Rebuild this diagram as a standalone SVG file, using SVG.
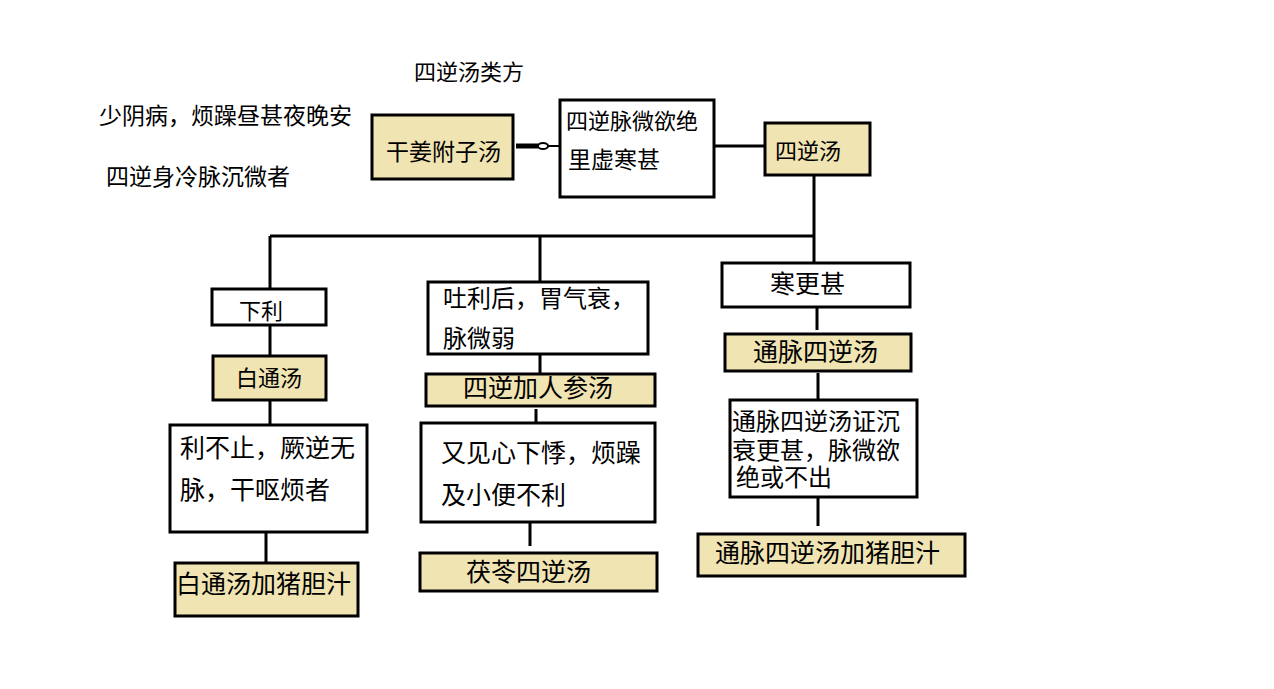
<svg xmlns="http://www.w3.org/2000/svg" width="1274" height="689" viewBox="0 0 1274 689">
<style>
text{font-family:"Noto Sans CJK SC","Noto Sans",sans-serif;fill:#000;}
.b{fill:#fff;stroke:#000;stroke-width:3;}
.y{fill:#F0E4B2;stroke:#000;stroke-width:3;}
.c line,.c path{stroke:#000;stroke-width:3;fill:none;}
.s22{font-size:22px;}.s23{font-size:23px;}.s24{font-size:24px;}.s25{font-size:25px;}
</style>
<rect width="1274" height="689" fill="#fff"/>
<text class="s22" x="414" y="80">四逆汤类方</text>
<text class="s23" x="99" y="124">少阴病，烦躁昼甚夜晚安</text>
<text class="s23" x="106" y="185">四逆身冷脉沉微者</text>
<g class="c" id="connectors">
<line x1="516" y1="146" x2="538" y2="146" style="stroke-width:5"/>
<ellipse cx="543" cy="146" rx="5" ry="3" fill="#fff" stroke="#000" stroke-width="2"/>
<line x1="548" y1="146" x2="560" y2="146" style="stroke-width:2"/>
<line x1="714" y1="146" x2="765" y2="146"/>
<line x1="814" y1="175" x2="814" y2="263"/>
<line x1="270" y1="236" x2="814" y2="236"/>
<line x1="270" y1="236" x2="270" y2="289"/>
<line x1="540" y1="236" x2="540" y2="282"/>
<line x1="270" y1="325" x2="270" y2="356"/>
<line x1="270" y1="400" x2="270" y2="425"/>
<line x1="266" y1="532" x2="266" y2="563"/>
<line x1="540" y1="354" x2="540" y2="374"/>
<line x1="536" y1="409" x2="536" y2="423"/>
<line x1="530" y1="522" x2="530" y2="546"/>
<line x1="817" y1="307" x2="817" y2="330"/>
<line x1="818" y1="373" x2="818" y2="400"/>
<line x1="818" y1="497" x2="818" y2="526"/>
</g>
<g id="n_ganjiang"><rect class="y" x="372" y="115" width="141" height="64"/><text class="s23" x="386" y="160">干姜附子汤</text></g>
<g id="n_maiwei"><rect class="b" x="560" y="100" width="154" height="97"/><text class="s22" x="566" y="129">四逆脉微欲绝</text><text class="s23" x="568" y="168">里虚寒甚</text></g>
<g id="n_sini"><rect class="y" x="765" y="123" width="105" height="52"/><text class="s22" x="775" y="159">四逆汤</text></g>
<g id="n_xiali"><rect class="b" x="212" y="289" width="114" height="36"/><text class="s22" x="239" y="319">下利</text></g>
<g id="n_baitong"><rect class="y" x="213" y="356" width="113" height="44"/><text class="s22" x="236" y="386">白通汤</text></g>
<g id="n_libuzhi"><rect class="b" x="170" y="425" width="197" height="107"/><text class="s25" x="180" y="457">利不止，厥逆无</text><text class="s25" x="180" y="499">脉，干呕烦者</text></g>
<g id="n_baitongzhu"><rect class="y" x="175" y="563" width="183" height="53"/><text class="s25" x="176" y="593">白通汤加猪胆汁</text></g>
<g id="n_tuli"><rect class="b" x="428" y="282" width="220" height="72"/><text class="s24" x="443" y="307">吐利后，胃气衰，</text><text class="s24" x="443" y="347">脉微弱</text></g>
<g id="n_renshen"><rect class="y" x="426" y="374" width="229" height="32"/><text class="s25" x="463" y="397">四逆加人参汤</text></g>
<g id="n_youjian"><rect class="b" x="421" y="423" width="234" height="99"/><text class="s25" x="441" y="462">又见心下悸，烦躁</text><text class="s25" x="441" y="504">及小便不利</text></g>
<g id="n_fuling"><rect class="y" x="420" y="553" width="237" height="38"/><text class="s25" x="466" y="581">茯苓四逆汤</text></g>
<g id="n_hangengshen"><rect class="b" x="722" y="263" width="188" height="44"/><text class="s25" x="770" y="293">寒更甚</text></g>
<g id="n_tongmai"><rect class="y" x="725" y="334" width="186" height="37"/><text class="s25" x="753" y="361">通脉四逆汤</text></g>
<g id="n_tongmaizheng"><rect class="b" x="730" y="400" width="187" height="97"/><text class="s24" x="732" y="430">通脉四逆汤证沉</text><text class="s24" x="732" y="459">衰更甚，脉微欲</text><text class="s24" x="736" y="486">绝或不出</text></g>
<g id="n_tongmaizhu"><rect class="y" x="698" y="534" width="267" height="42"/><text class="s25" x="715" y="562">通脉四逆汤加猪胆汁</text></g>
</svg>
